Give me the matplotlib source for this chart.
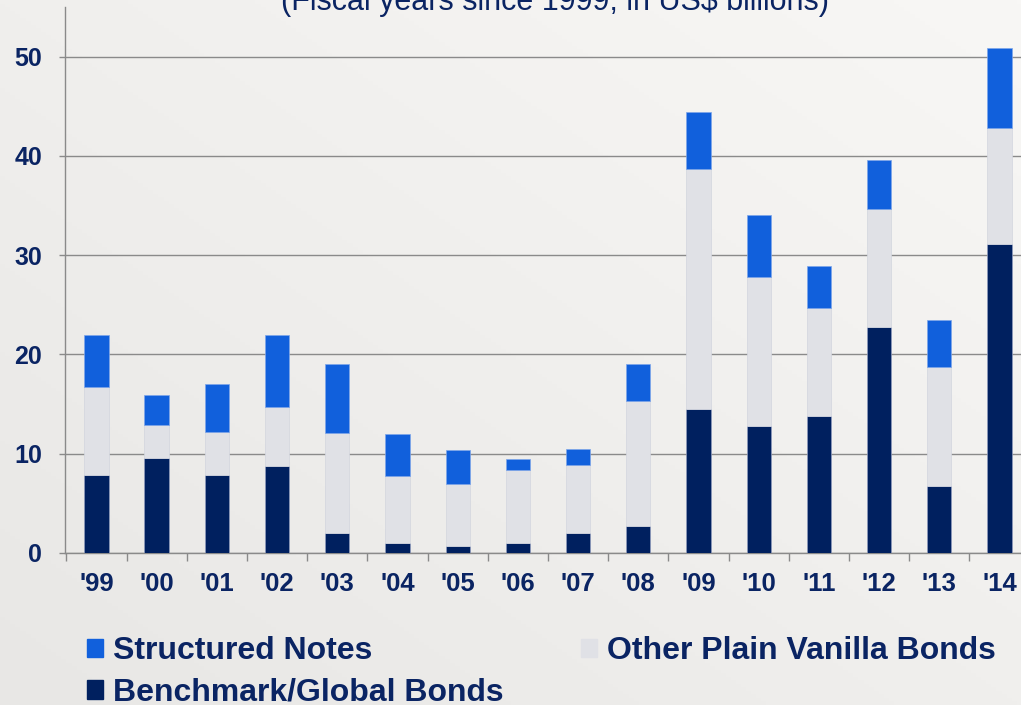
import matplotlib
matplotlib.use('Agg')
import matplotlib.pyplot as plt
import numpy as np
from matplotlib.patches import Patch

# Datos (US$ miles de millones, años fiscales)
years = ["'99", "'00", "'01", "'02", "'03", "'04", "'05", "'06",
         "'07", "'08", "'09", "'10", "'11", "'12", "'13", "'14"]
benchmark = [7.9, 9.6, 7.9, 8.8, 2.0, 1.0, 0.75, 1.0,
             2.0, 2.7, 14.5, 12.8, 13.8, 22.8, 6.7, 31.1]
other_vanilla = [8.8, 3.3, 4.3, 5.9, 10.1, 6.8, 6.25, 7.4,
                 6.9, 12.65, 24.2, 15.0, 10.9, 11.9, 12.05, 11.7]
structured = [5.3, 3.0, 4.8, 7.3, 6.9, 4.2, 3.35, 1.05,
              1.55, 3.7, 5.7, 6.2, 4.2, 4.9, 4.75, 8.1]

c_struct = '#1160dc'
c_other = '#e0e1e6'
c_bench = '#00205f'
navy = '#0a2463'
grid_gray = '#8a8a8a'

plt.rcParams['font.family'] = ['Liberation Sans', 'DejaVu Sans']

fig = plt.figure(figsize=(10.21, 7.05), dpi=100)

# Fondo con degradado suave
bg = fig.add_axes([0, 0, 1, 1], zorder=-10)
gx = np.linspace(0, 1, 200)
gy = np.linspace(0, 1, 200)
GX, GY = np.meshgrid(gx, gy)
shade = 0.5 * GX + 0.5 * (1 - GY)
c0 = np.array([0xe8, 0xe7, 0xe5]) / 255
c1 = np.array([0xf8, 0xf7, 0xf5]) / 255
img = c0 + shade[..., None] * (c1 - c0)
bg.imshow(img, aspect='auto', extent=[0, 1, 0, 1])
bg.axis('off')

ax = fig.add_axes([65 / 1021, 152 / 705, 964.6 / 1021, 546 / 705])
ax.patch.set_alpha(0)

x = np.arange(len(years))
w = 0.405
b1 = np.array(benchmark)
b2 = b1 + np.array(other_vanilla)
ax.bar(x, benchmark, w, color=c_bench, edgecolor='#8f9bbd', linewidth=0.5, zorder=3)
ax.bar(x, other_vanilla, w, bottom=b1, color=c_other, edgecolor='#d2d5de', linewidth=0.5, zorder=3)
ax.bar(x, structured, w, bottom=b2, color=c_struct, edgecolor='#7ea6ea', linewidth=0.5, zorder=3)

ax.set_xlim(-0.523, 15.5)
ax.set_ylim(0, 55)
ax.set_yticks([0, 10, 20, 30, 40, 50])
ax.set_xticks(x)
ax.set_xticklabels(years)
ax.set_xticks(np.arange(len(years)) - 0.5, minor=True)

ax.grid(axis='y', color=grid_gray, linewidth=1.0)
ax.set_axisbelow(True)

for s in ['top', 'right']:
    ax.spines[s].set_visible(False)
for s in ['left', 'bottom']:
    ax.spines[s].set_color(grid_gray)
    ax.spines[s].set_linewidth(1.0)

ax.tick_params(axis='y', length=4.5, width=1.0, color=grid_gray, pad=12,
               labelsize=18, labelcolor=navy)
ax.tick_params(axis='x', which='major', length=0, pad=13.5,
               labelsize=18.5, labelcolor=navy)
ax.tick_params(axis='x', which='minor', length=5.5, width=1.0, color=grid_gray)
for lab in ax.get_xticklabels() + ax.get_yticklabels():
    lab.set_fontweight('bold')

fig.text(555 / 1021, 1 - 10 / 705, '(Fiscal years since 1999, in US$ billions)',
         ha='center', va='baseline', fontsize=22, color=navy)

handles = [Patch(color=c_struct, label='Structured Notes'),
           Patch(color=c_bench, label='Benchmark/Global Bonds'),
           Patch(color=c_other, label='Other Plain Vanilla Bonds')]
leg = fig.legend(handles=handles, ncol=2, loc='upper left',
                 bbox_to_anchor=(87 / 1021, 1 - 636 / 705),
                 frameon=False, handlelength=0.5, handleheight=0.5,
                 handletextpad=0.3, columnspacing=2.45, labelspacing=0.37,
                 borderpad=0, borderaxespad=0,
                 prop={'weight': 'bold', 'size': 23})
for t in leg.get_texts():
    t.set_color(navy)

fig.savefig('out.png', dpi=100)
